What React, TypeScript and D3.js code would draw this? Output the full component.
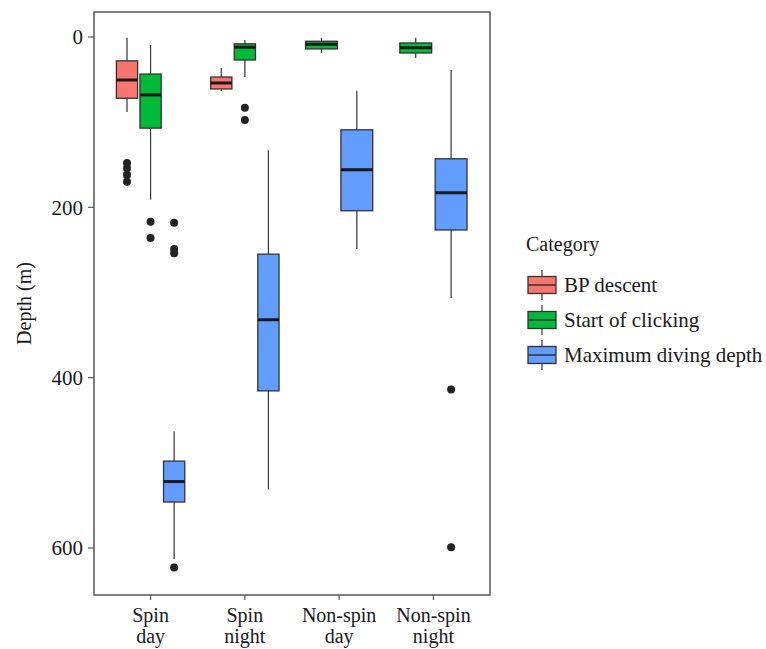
import React, { useEffect, useRef } from 'react';
import * as d3 from 'd3';

// Box plots of depth by category and dive type

const categories = ['Spin day', 'Spin night', 'Non-spin day', 'Non-spin night'];
const categoryLines = [['Spin', 'day'], ['Spin', 'night'], ['Non-spin', 'day'], ['Non-spin', 'night']];
const seriesNames = ['BP descent', 'Start of clicking', 'Maximum diving depth'];
const seriesColors = ['#F8766D', '#00BA38', '#619CFF'];
const yTicks = [0, 200, 400, 600];

// [lower whisker, Q1, median, Q3, upper whisker] per category, null when absent
const bpDescent = [
  [1, 28, 50.5, 72, 88],
  [36.5, 47, 54, 61, 63.5],
  null,
  null,
];
const bpDescentOut = [[148, 154, 162, 170], [], [], []];

const startClicking = [
  [9.5, 43.5, 68, 107, 191],
  [3.5, 8, 12, 27, 47],
  [1, 5, 8.6, 14, 19],
  [1, 7, 12.5, 18.8, 24.6],
];
const startClickingOut = [[217, 236], [83, 97.5], [], []];

const maxDepth = [
  [463, 498, 522, 546, 613],
  [133, 255, 332, 415.5, 531],
  [63, 109, 156, 204, 249],
  [38.7, 143, 183, 226.6, 306.5],
];
const maxDepthOut = [[218, 249, 254, 623], [], [], [414, 599]];

const seriesStats = [bpDescent, startClicking, maxDepth];
const seriesOut = [bpDescentOut, startClickingOut, maxDepthOut];

const FONT = 'Liberation Serif, DejaVu Serif, serif';

export default function App() {
  const ref = useRef<SVGSVGElement>(null);

  useEffect(() => {
    const svg = d3.select(ref.current);
    svg.selectAll('*').remove();

    const panel = { left: 94, right: 490, top: 12, bottom: 595 };

    // ggplot style discrete expansion: 0.6 units each side
    const unit = (panel.right - panel.left) / (categories.length + 0.2);
    const x = d3.scalePoint<string>()
      .domain(categories)
      .range([panel.left + 0.6 * unit, panel.right - 0.6 * unit]);
    const cx = (i: number) => x(categories[i]) as number;

    const y = d3.scaleLinear().domain([-29.35, 655.2]).range([panel.top, panel.bottom]);

    const g = svg.append('g');

    // boxes
    categories.forEach((cat, ci) => {
      const present = seriesStats.map((s, si) => si).filter(si => seriesStats[si][ci] !== null);
      const n = present.length;
      const slot = (0.75 * unit) / n;
      const bw = slot * 0.9;
      present.forEach((si, k) => {
        const st = seriesStats[si][ci] as number[];
        const c = cx(ci) - 0.75 * unit / 2 + slot * (k + 0.5);
        const [lo, q1, med, q3, hi] = st;
        g.append('line')
          .attr('x1', c).attr('x2', c)
          .attr('y1', y(lo)).attr('y2', y(hi))
          .attr('stroke', '#333').attr('stroke-width', 1.2);
        g.append('rect')
          .attr('x', c - bw / 2).attr('width', bw)
          .attr('y', y(q1)).attr('height', y(q3) - y(q1))
          .attr('fill', seriesColors[si])
          .attr('stroke', '#333').attr('stroke-width', 1.3);
        g.append('line')
          .attr('x1', c - bw / 2).attr('x2', c + bw / 2)
          .attr('y1', y(med)).attr('y2', y(med))
          .attr('stroke', '#1a1a1a').attr('stroke-width', 3);
        g.selectAll(null)
          .data(seriesOut[si][ci])
          .join('circle')
          .attr('cx', c)
          .attr('cy', d => y(d))
          .attr('r', 4)
          .attr('fill', '#222');
      });
    });

    // panel border
    svg.append('rect')
      .attr('x', panel.left).attr('y', panel.top)
      .attr('width', panel.right - panel.left).attr('height', panel.bottom - panel.top)
      .attr('fill', 'none').attr('stroke', '#555').attr('stroke-width', 1.5);

    // y axis
    const ya = svg.append('g');
    yTicks.forEach(t => {
      ya.append('line')
        .attr('x1', panel.left - 6).attr('x2', panel.left)
        .attr('y1', y(t)).attr('y2', y(t))
        .attr('stroke', '#555').attr('stroke-width', 1.2);
      ya.append('text')
        .attr('x', panel.left - 11).attr('y', y(t))
        .attr('dy', '0.35em')
        .attr('text-anchor', 'end')
        .style('font-family', FONT).attr('font-size', 21)
        .attr('fill', '#1a1a1a')
        .text(t);
    });

    // x axis
    const xa = svg.append('g');
    categories.forEach((cat, ci) => {
      xa.append('line')
        .attr('x1', cx(ci)).attr('x2', cx(ci))
        .attr('y1', panel.bottom).attr('y2', panel.bottom + 5)
        .attr('stroke', '#555').attr('stroke-width', 1.2);
      categoryLines[ci].forEach((line, li) => {
        xa.append('text')
          .attr('x', cx(ci)).attr('y', 622 + li * 21)
          .attr('text-anchor', 'middle')
          .style('font-family', FONT).attr('font-size', 20)
          .attr('fill', '#1a1a1a')
          .text(line);
      });
    });

    // y axis title
    svg.append('text')
      .attr('transform', `translate(31, ${(panel.top + panel.bottom) / 2}) rotate(-90)`)
      .attr('text-anchor', 'middle')
      .style('font-family', FONT).attr('font-size', 20)
      .attr('fill', '#1a1a1a')
      .text('Depth (m)');

    // legend
    const lg = svg.append('g');
    lg.append('text')
      .attr('x', 526).attr('y', 251)
      .style('font-family', FONT).attr('font-size', 20)
      .attr('fill', '#1a1a1a')
      .text('Category');
    seriesNames.forEach((name, i) => {
      const yc = 285 + i * 35;
      lg.append('line')
        .attr('x1', 542).attr('x2', 542)
        .attr('y1', yc - 15).attr('y2', yc + 15)
        .attr('stroke', '#333').attr('stroke-width', 1.2);
      lg.append('rect')
        .attr('x', 528).attr('y', yc - 8.5)
        .attr('width', 28).attr('height', 17)
        .attr('fill', seriesColors[i])
        .attr('stroke', '#333').attr('stroke-width', 1.3);
      lg.append('line')
        .attr('x1', 528).attr('x2', 556)
        .attr('y1', yc).attr('y2', yc)
        .attr('stroke', '#333').attr('stroke-width', 1.5);
      lg.append('text')
        .attr('x', 564).attr('y', yc + 7)
        .style('font-family', FONT).attr('font-size', 21)
        .attr('fill', '#1a1a1a')
        .text(name);
    });
  }, []);

  return (
    <svg
      ref={ref}
      width={766}
      height={649}
      style={{ position: 'absolute', left: 0, top: 0, background: '#fff' }}
    />
  );
}
